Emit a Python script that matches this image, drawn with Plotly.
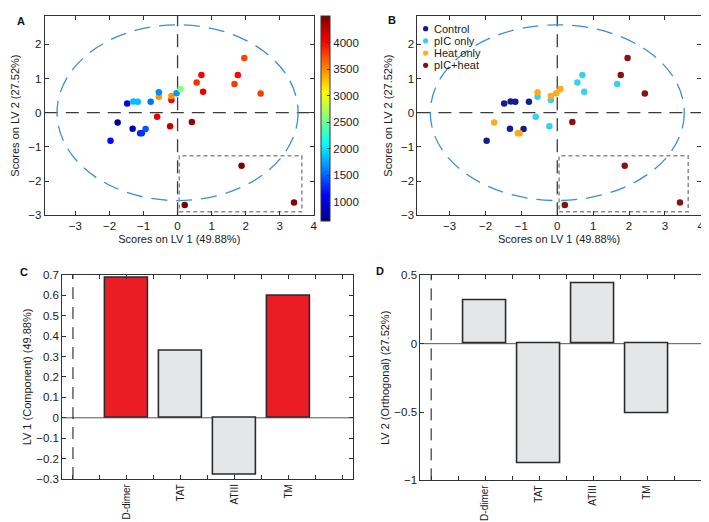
import plotly.graph_objects as go

W, H = 709, 522

# ---------------- data ----------------
group_names = ["Control", "pIC only", "Heat only", "pIC+heat"]

ctrl_x = [-1.48, -1.30, -1.17, -0.79, -1.32, -0.94, -1.97]
ctrl_y = [0.27, 0.33, 0.32, 0.32, -0.47, -0.48, -0.82]
ctrl_z = [1050, 1850, 1850, 1550, 900, 1450, 1150]

pic_x = [-0.55, -0.18, -0.60, -0.22, 0.56, 0.70, 0.75, 1.67]
pic_y = [0.47, 0.37, -0.12, -0.40, 0.88, 1.10, 0.61, 0.84]
pic_z = [3450, 4050, 4100, 4250, 3850, 4050, 4100, 3800]

heat_x = [-1.76, -1.10, -1.05, -0.55, -0.18, -0.03, 0.09]
heat_y = [-0.29, -0.60, -0.60, 0.60, 0.49, 0.57, 0.69]
heat_z = [750, 1250, 1300, 1650, 3450, 1700, 2600]

ph_x = [0.42, 1.77, 1.96, 2.44, 1.88, 0.21, 3.42]
ph_y = [-0.27, 1.10, 1.60, 0.56, -1.55, -2.70, -2.63]
ph_z = [4400, 4000, 3770, 3800, 4500, 4500, 4480]

variables = ["D-dimer", "TAT", "ATIII", "TM"]
lv1_loadings = [0.683, 0.327, -0.280, 0.595]
lv2_loadings = [0.320, -0.877, 0.439, -0.510]
lv1_significant = [True, False, False, True]

cbar_ticks = [1000, 1500, 2000, 2500, 3000, 3500, 4000]
score_xticks = [-3, -2, -1, 0, 1, 2, 3, 4]
score_yticks = [-3, -2, -1, 0, 1, 2]

# confidence ellipse semi-axes and highlighted region
ell_a, ell_b = 3.54, 2.57
box_x0, box_x1, box_y0, box_y1 = 0.05, 3.65, -2.90, -1.26

# ---------------- styling ----------------
FONT = "Liberation Sans, Arial, Helvetica, sans-serif"
TXT = "#1a1a1a"
AXC = "#333333"
group_colors = ["#121c8a", "#33d2f2", "#ffab1a", "#8a0f0f"]
jet = [[0.0, "#000080"], [0.125, "#0000ff"], [0.375, "#00ffff"],
       [0.625, "#ffff00"], [0.875, "#ff0000"], [1.0, "#800000"]]
RED, GREY = "#ec1c24", "#e5e6e7"


def dom_x(a, b):
    return [a / W, b / W]


def dom_y(top, bot):
    return [1 - bot / H, 1 - top / H]


fig = go.Figure()

groups = [(ctrl_x, ctrl_y, ctrl_z), (pic_x, pic_y, pic_z),
          (heat_x, heat_y, heat_z), (ph_x, ph_y, ph_z)]

# Panel A: coloured by value
all_x = sum([g[0] for g in groups], [])
all_y = sum([g[1] for g in groups], [])
all_z = sum([g[2] for g in groups], [])
fig.add_trace(go.Scatter(x=all_x, y=all_y, mode="markers", xaxis="x", yaxis="y",
                         marker=dict(size=6.5, color=all_z, coloraxis="coloraxis"),
                         showlegend=False))

# Panel B: coloured by group
for name, (gx, gy, gz), col in zip(group_names, groups, group_colors):
    fig.add_trace(go.Scatter(x=gx, y=gy, mode="markers", xaxis="x2", yaxis="y2",
                             name=name, marker=dict(size=6.5, color=col),
                             showlegend=False))

# Panels C, D: loadings
pos = [i + 1 for i in range(len(variables))]
fig.add_trace(go.Bar(x=pos, y=lv1_loadings, xaxis="x3", yaxis="y3", width=0.8,
                     marker=dict(color=[RED if s else GREY for s in lv1_significant],
                                 line=dict(color="#2b2b2b", width=1.6)),
                     showlegend=False))
fig.add_trace(go.Bar(x=pos, y=lv2_loadings, xaxis="x4", yaxis="y4", width=0.8,
                     marker=dict(color=GREY, line=dict(color="#2b2b2b", width=1.6)),
                     showlegend=False))

tickfont = dict(family=FONT, size=11.5, color=TXT)
catfont = dict(family=FONT, size=10, color=TXT)
titlefont = dict(family=FONT, size=11, color=TXT)

axis_common = dict(showline=True, linecolor=AXC, linewidth=1, mirror="ticks",
                   ticks="inside", ticklen=4, tickcolor=AXC, tickwidth=1,
                   showgrid=False, zeroline=False)

half_ticks = [i * 0.5 for i in range(11)]
half_text = []
for t in half_ticks:
    if float(t).is_integer() and 1 <= int(t) <= len(variables):
        half_text.append(variables[int(t) - 1])
    else:
        half_text.append("")

layout = dict(
    width=W, height=H, margin=dict(l=0, r=0, t=0, b=0),
    paper_bgcolor="white", plot_bgcolor="white",
    font=dict(family=FONT, color=TXT),
    showlegend=False, bargap=0,
    coloraxis=dict(colorscale=jet, cmin=640, cmax=4500,
                   colorbar=dict(x=315 / W, xanchor="left", y=1 - 2 / H, yanchor="top",
                                 len=205, lenmode="pixels", thickness=9,
                                 thicknessmode="pixels", xpad=0, ypad=0,
                                 outlinewidth=1, outlinecolor=AXC,
                                 ticks="inside", ticklen=3, tickcolor=AXC,
                                 tickvals=cbar_ticks, tickfont=tickfont)),
    xaxis=dict(domain=dom_x(37, 307.5), range=[-3.9, 4], tickvals=score_xticks,
               anchor="y", tickfont=tickfont,
               title=dict(text="Scores on LV 1 (49.88%)", font=titlefont, standoff=4),
               **axis_common),
    yaxis=dict(domain=dom_y(2, 206), range=[-3, 2.83], tickvals=score_yticks,
               anchor="x", tickfont=tickfont,
               title=dict(text="Scores on LV 2 (27.52%)", font=titlefont, standoff=6),
               **axis_common),
    xaxis2=dict(domain=dom_x(411.7, 696.7), range=[-3.9, 4], tickvals=score_xticks,
                anchor="y2", tickfont=tickfont,
                title=dict(text="Scores on LV 1 (49.88%)", font=titlefont, standoff=4),
                **axis_common),
    yaxis2=dict(domain=dom_y(2, 206), range=[-3, 2.83], tickvals=score_yticks,
                anchor="x2", tickfont=tickfont,
                title=dict(text="Scores on LV 2 (27.52%)", font=titlefont, standoff=6),
                **axis_common),
    xaxis3=dict(domain=dom_x(54.5, 347), range=[-0.2, 5.2], tickvals=half_ticks,
                ticktext=half_text, tickangle=-90, anchor="y3", tickfont=catfont,
                **axis_common),
    yaxis3=dict(domain=dom_y(267, 476), range=[-0.3, 0.7], dtick=0.1, tick0=0,
                anchor="x3", tickfont=tickfont,
                title=dict(text="LV 1 (Component) (49.88%)", font=titlefont, standoff=2),
                **axis_common),
    xaxis4=dict(domain=dom_x(414.7, 708), range=[-0.2, 5.2], tickvals=half_ticks,
                ticktext=half_text, tickangle=-90, anchor="y4", tickfont=catfont,
                **axis_common),
    yaxis4=dict(domain=dom_y(267.5, 477.3), range=[-1, 0.5], tickvals=[-1, -0.5, 0, 0.5],
                anchor="x4", tickfont=tickfont,
                title=dict(text="LV 2 (Orthogonal) (27.52%)", font=titlefont, standoff=2),
                **axis_common),
)
fig.update_layout(**layout)

shapes = []
for xr, yr in [("x", "y"), ("x2", "y2")]:
    # confidence ellipse
    shapes.append(dict(type="circle", xref=xr, yref=yr, x0=-ell_a, x1=ell_a, y0=-ell_b, y1=ell_b,
                       line=dict(color="#3a8fd3", width=1.3, dash="16px,9px"), layer="below"))
    # crosshair
    shapes.append(dict(type="line", xref=xr, yref=yr + " domain", x0=0, x1=0, y0=0, y1=1,
                       line=dict(color="#3a3a3a", width=1.3, dash="13px,8px"), layer="below"))
    shapes.append(dict(type="line", xref=xr + " domain", yref=yr, x0=0, x1=1, y0=0, y1=0,
                       line=dict(color="#3a3a3a", width=1.3, dash="13px,8px"), layer="below"))
    # highlighted region
    shapes.append(dict(type="rect", xref=xr, yref=yr, x0=box_x0, x1=box_x1, y0=box_y0, y1=box_y1,
                       line=dict(color="#8c8c8c", width=1.5, dash="4px,3px"), layer="below"))

for xr, yr in [("x3", "y3"), ("x4", "y4")]:
    shapes.append(dict(type="line", xref=xr + " domain", yref=yr, x0=0, x1=1, y0=0, y1=0,
                       line=dict(color="#555555", width=1), layer="below"))
    shapes.append(dict(type="line", xref=xr, yref=yr + " domain", x0=0, x1=0, y0=0, y1=1,
                       line=dict(color="#111111", width=1, dash="12px,8px"), layer="below"))

# manual compact legend for panel B
leg_x = 420 / W
leg_y0 = 15
leg_step = 12.5
annotations = []
for i, (name, col) in enumerate(zip(group_names, group_colors)):
    yy = 1 - (leg_y0 + i * leg_step) / H
    shapes.append(dict(type="circle", xref="paper", yref="paper", xsizemode="pixel",
                       ysizemode="pixel", xanchor=leg_x, yanchor=yy, x0=-2.6, x1=2.6,
                       y0=-2.6, y1=2.6, fillcolor=col, line=dict(width=0)))
    annotations.append(dict(x=426 / W, y=yy, xref="paper", yref="paper", text=name,
                            showarrow=False, xanchor="left", yanchor="middle",
                            font=dict(family=FONT, size=11, color=TXT)))

for lab, lx, ly in [("A", 13, 7), ("B", 386, 6), ("C", 16, 264), ("D", 374, 263)]:
    annotations.append(dict(x=lx / W, y=1 - ly / H, xref="paper", yref="paper", text="<b>%s</b>" % lab,
                            showarrow=False, xanchor="center", yanchor="middle",
                            font=dict(family=FONT, size=11, color="#111111")))

fig.update_layout(shapes=shapes, annotations=annotations)
fig.write_html("out.html")
